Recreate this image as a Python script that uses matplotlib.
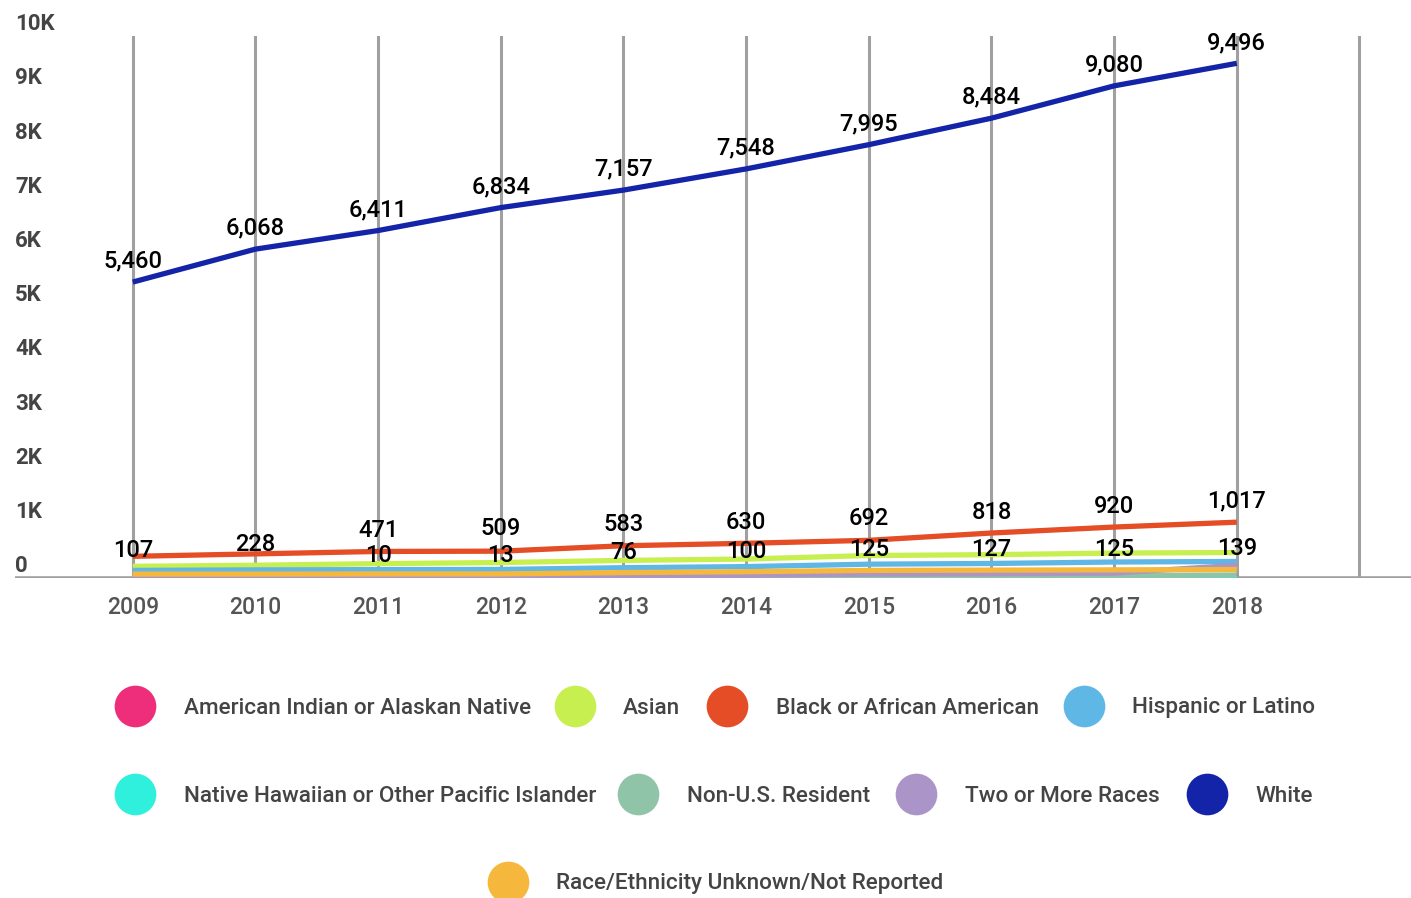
import matplotlib
matplotlib.use("Agg")
import matplotlib.pyplot as plt
from matplotlib.lines import Line2D

plt.rcParams['font.family'] = ['Roboto', 'DejaVu Sans']

years = [2009, 2010, 2011, 2012, 2013, 2014, 2015, 2016, 2017, 2018]

series_names = [
    "American Indian or Alaskan Native",
    "Asian",
    "Black or African American",
    "Hispanic or Latino",
    "Native Hawaiian or Other Pacific Islander",
    "Non-U.S. Resident",
    "Two or More Races",
    "White",
    "Race/Ethnicity Unknown/Not Reported",
]
series_colors = ["#ee2e7a", "#c8ef50", "#e44d26", "#5fb7e5", "#2ef0dc",
                 "#8fc4a8", "#ab94c8", "#1424a8", "#f5b83d"]

american_indian = [10, 10, 10, 10, 10, 10, 10, 10, 10, 10]
asian = [215, 235, 265, 285, 325, 350, 415, 430, 460, 470]
black = [400, 445, 490, 495, 595, 640, 695, 830, 940, 1030]
hispanic = [140, 150, 155, 158, 190, 210, 255, 268, 295, 305]
native_hawaiian = [3, 3, 3, 3, 3, 3, 3, 3, 3, 3]
non_us = [18, 18, 18, 18, 20, 25, 35, 40, 45, 55]
two_or_more = [0, 0, 0, 10, 40, 50, 70, 78, 90, 235]
white = [5460, 6068, 6411, 6834, 7157, 7548, 7995, 8484, 9080, 9496]
unknown = [72, 72, 75, 75, 100, 116, 140, 145, 150, 157]

series_values = [american_indian, asian, black, hispanic, native_hawaiian,
                 non_us, two_or_more, white, unknown]

# data labels as shown on the chart
white_labels = [5460, 6068, 6411, 6834, 7157, 7548, 7995, 8484, 9080, 9496]
upper_labels = [107, 228, 471, 509, 583, 630, 692, 818, 920, 1017]
lower_label_years = [2011, 2012, 2013, 2014, 2015, 2016, 2017, 2018]
lower_labels = [10, 13, 76, 100, 125, 127, 125, 139]

ytick_values = [0, 1000, 2000, 3000, 4000, 5000, 6000, 7000, 8000, 9000, 10000]
ytick_labels = ["0", "1K", "2K", "3K", "4K", "5K", "6K", "7K", "8K", "9K", "10K"]

W, H = 1411, 898
fig = plt.figure(figsize=(W / 100, H / 100), dpi=100)
ax = fig.add_axes([15 / W, (H - 578) / H, (W - 15) / W, 542 / H])
ax.set_xlim(2008.04, 2019.42)
ax.set_ylim(0, 10000)
for s in ax.spines.values():
    s.set_visible(False)
ax.set_yticks([])
ax.set_xticks(years)
ax.set_xticklabels([str(y) for y in years], fontsize=16.5, color="#555555",
                   fontweight='medium')
ax.tick_params(axis='x', length=0, pad=13)

grid_color = "#a0a0a0"
for x in years + [2019]:
    ax.axvline(x, color=grid_color, lw=2.2, zorder=1)
ax.axhline(0, color=grid_color, lw=2.6, zorder=1)

for name, color, vals in zip(series_names, series_colors, series_values):
    ax.plot(years, vals, color=color, lw=3.8, zorder=3, solid_capstyle='butt')

label_kw = dict(textcoords='offset points', ha='center', va='center',
                fontsize=17, color='black', zorder=5, fontweight='medium')
for x, v in zip(years, white_labels):
    ax.annotate(f"{v:,}", (x, v), xytext=(0, 15), **label_kw)
for x, v in zip(years, upper_labels):
    ax.annotate(f"{v:,}", (x, v), xytext=(0, 15.5), **label_kw)
for x, v in zip(lower_label_years, lower_labels):
    ax.annotate(f"{v:,}", (x, v), xytext=(0, 15.5), **label_kw)

for v, lab in zip(ytick_values, ytick_labels):
    ax.annotate(lab, (0, v), xycoords=('axes fraction', 'data'),
                xytext=(0, 8.5), textcoords='offset points',
                ha='left', va='center', fontsize=16, color="#444444",
                fontweight='bold')

# legend layout (pixel positions: circle centre x, text x, row y)
legend_layout = [
    (135, 184, 706), (575, 623, 706), (727, 776, 706), (1084, 1132, 706),
    (135, 184, 794), (638, 687, 794), (916, 965, 794), (1207, 1255, 794),
    (508, 556, 882),
]
for (cx, tx, ry), name, color in zip(legend_layout, series_names, series_colors):
    fig.add_artist(Line2D([cx / W], [1 - ry / H], marker='o', markersize=30,
                          color=color, markeredgewidth=0,
                          transform=fig.transFigure))
    fig.text(tx / W, 1 - (ry + 2) / H, name, ha='left', va='center',
             fontsize=16.2, color="#444444", fontweight='medium')

fig.savefig("out.png", dpi=100)
